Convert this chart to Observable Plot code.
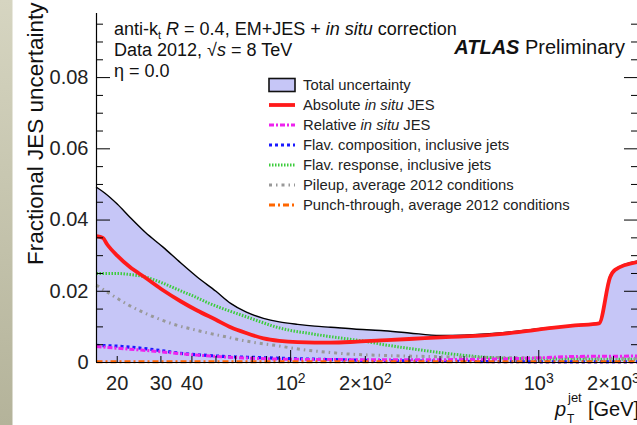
<!DOCTYPE html>
<html><head><meta charset="utf-8">
<script src="https://cdn.jsdelivr.net/npm/d3@7"></script>
<script src="https://cdn.jsdelivr.net/npm/@observablehq/plot@0.6"></script>
<style>
html,body{margin:0;padding:0;background:#fff;}
#chart{width:637px;height:425px;overflow:hidden;}
</style></head><body><div id="chart"></div>
<script>
const FONT = '"Liberation Sans", Arial, Helvetica, sans-serif';
const xDomain = [16.5, 2500];
const yDomain = [0, 0.098];

// Total uncertainty
const totalPt  = [16.5, 17.8, 20, 22.5, 26, 30.6, 36, 42, 50, 57.3, 66, 77.7, 90, 106.7, 125, 145, 180, 231, 300, 400, 500, 700, 1000, 1400, 1750, 1940, 2030, 2500];
const totalUnc = [0.0492, 0.0476, 0.0445, 0.0408, 0.0365, 0.0324, 0.0280, 0.0240, 0.0200, 0.0166, 0.0142, 0.0124, 0.0114, 0.0107, 0.0102, 0.0099, 0.0094, 0.0090, 0.0083, 0.0076, 0.0077, 0.0083, 0.0095, 0.0105, 0.0112, 0.0245, 0.0262, 0.0285];
// Absolute in situ JES
const absPt  = [16.5, 17.5, 18.2, 20, 22.5, 26, 30.6, 36, 42, 50, 57.3, 66, 77.7, 90, 106.7, 125, 145, 180, 231, 300, 444, 604, 829, 1130, 1400, 1750, 1940, 2030, 2500];
const absUnc = [0.0355, 0.0350, 0.0332, 0.0300, 0.0268, 0.0238, 0.0203, 0.0172, 0.0146, 0.0120, 0.0099, 0.0083, 0.0068, 0.0061, 0.0057, 0.0056, 0.0056, 0.0058, 0.0062, 0.0066, 0.0072, 0.0076, 0.0085, 0.0097, 0.0104, 0.0110, 0.0240, 0.0260, 0.0282];
// Relative in situ JES
const relPt  = [16.5, 20, 25, 30, 40, 60, 100, 200, 400, 700, 1000, 1400, 2500];
const relUnc = [0.0045, 0.0040, 0.0035, 0.0030, 0.0022, 0.0014, 0.0009, 0.0008, 0.0008, 0.0010, 0.0013, 0.0017, 0.0018];
// Flavour composition
const compPt  = [16.5, 21, 25, 29.6, 34, 39.4, 46, 53.6, 73, 100, 150, 200, 500, 1000, 2500];
const compUnc = [0.0048, 0.0045, 0.0040, 0.0034, 0.0028, 0.0023, 0.0020, 0.0017, 0.0014, 0.0011, 0.0008, 0.0006, 0.0003, 0.0002, 0.0002];
// Flavour response
const respPt  = [16.5, 20, 22.5, 26, 30, 35, 41, 47, 55, 64, 75, 87, 100, 118, 140, 162, 197, 238, 327, 444, 604, 829, 1130, 2500];
const respUnc = [0.0250, 0.0250, 0.0247, 0.0240, 0.0225, 0.0205, 0.0185, 0.0166, 0.0148, 0.0132, 0.0115, 0.0100, 0.0090, 0.0082, 0.0074, 0.0068, 0.0060, 0.0050, 0.0036, 0.0024, 0.0015, 0.0011, 0.0010, 0.0009];
// Pileup
const puPt  = [16.5, 19.7, 22, 26, 30, 35, 41, 47, 55, 64, 75, 87, 100, 118, 140, 162, 231, 350, 500, 1000, 2500];
const puUnc = [0.0217, 0.0183, 0.0163, 0.0138, 0.0120, 0.0104, 0.0092, 0.0082, 0.0072, 0.0062, 0.0054, 0.0048, 0.0041, 0.0034, 0.0029, 0.0025, 0.0020, 0.0017, 0.0015, 0.0013, 0.0012];
// Punch-through
const ptPt  = [16.5, 2500];
const ptUnc = [0.0002, 0.0002];

const yMajor = [0, 0.02, 0.04, 0.06, 0.08];
const yLabels = ["0", "0.02", "0.04", "0.06", "0.08"];
const yMinor = [0.005, 0.01, 0.015, 0.025, 0.03, 0.035, 0.045, 0.05, 0.055, 0.065, 0.07, 0.075, 0.085, 0.09, 0.095];
const xLabelTicks = [20, 30, 40, 100, 200, 1000, 2000];
const xLabels = ["20", "30", "40", "10^2", "2×10^2", "10^3", "2×10^3"];
const xMajor = [100, 1000];
const xMinor = [20, 30, 40, 50, 60, 70, 80, 90, 200, 300, 400, 500, 600, 700, 800, 900, 2000];

const series = [
  {name: "Total uncertainty", pt: totalPt, v: totalUnc},
  {name: "Absolute in situ JES", pt: absPt, v: absUnc, stroke: "#ff1a1a", width: 3.8, dash: null},
  {name: "Relative in situ JES", pt: relPt, v: relUnc, stroke: "#ee22ee", width: 3, dash: "5 2 2 2"},
  {name: "Flav. composition, inclusive jets", pt: compPt, v: compUnc, stroke: "#1a1aff", width: 3.2, dash: "3 3"},
  {name: "Flav. response, inclusive jets", pt: respPt, v: respUnc, stroke: "#3ccc3c", width: 3, dash: "1.5 1.5"},
  {name: "Pileup, average 2012 conditions", pt: puPt, v: puUnc, stroke: "#999999", width: 3, dash: "3 4 1.5 4"},
  {name: "Punch-through, average 2012 conditions", pt: ptPt, v: ptUnc, stroke: "#ff6600", width: 3, dash: "6 3 2 3"}
];
const rows = s => s.pt.map((p, i) => ({pt: p, v: s.v[i]}));
const total = rows(series[0]);
const lineOrder = [4, 5, 3, 2, 6, 1];

const blank = () => "";

const chart = Plot.plot({
  width: 637, height: 425,
  marginLeft: 96, marginRight: 0, marginTop: 13, marginBottom: 63,
  style: {fontFamily: FONT, fontSize: "20px", color: "black", background: "transparent", overflow: "visible"},
  x: {type: "log", domain: xDomain, axis: null},
  y: {domain: yDomain, axis: null},
  marks: [
    Plot.areaY(total, {x: "pt", y: "v", fill: "#c6c6f7", curve: "monotone-x"}),
    Plot.line(total, {x: "pt", y: "v", stroke: "#000", strokeWidth: 1.4, curve: "monotone-x"}),
    ...lineOrder.map(k => {
      const s = series[k];
      return Plot.line(rows(s), {x: "pt", y: "v", stroke: s.stroke, strokeWidth: s.width,
        strokeDasharray: s.dash || undefined, strokeLinecap: "butt", curve: "monotone-x"});
    }),
    Plot.ruleX([xDomain[0]], {stroke: "#000", strokeWidth: 1.2}),
    Plot.ruleY([0], {stroke: "#000", strokeWidth: 1.2}),
    Plot.text(yMajor, {y: d => d, text: (d, i) => yLabels[i], frameAnchor: "left", dx: -8, textAnchor: "end", fill: "#222", fontSize: 20}),
    Plot.axisY(yMajor, {anchor: "left", tickSize: -14, tickFormat: blank, label: null}),
    Plot.axisY(yMinor, {anchor: "left", tickSize: -7, tickFormat: blank, label: null}),
    Plot.axisY(yMajor, {anchor: "right", tickSize: -14, tickFormat: blank, label: null}),
    Plot.axisY(yMinor, {anchor: "right", tickSize: -7, tickFormat: blank, label: null}),
    Plot.text(xLabelTicks, {x: d => d, text: (d, i) => xLabels[i], frameAnchor: "bottom", lineAnchor: "top", dy: 13, fill: "#222", fontSize: 20}),
    Plot.axisX(xMajor, {anchor: "bottom", tickSize: -12, tickFormat: blank, label: null}),
    Plot.axisX(xMinor, {anchor: "bottom", tickSize: -6, tickFormat: blank, label: null})
  ]
});
document.getElementById("chart").appendChild(chart);

const svg = d3.select(chart);
// superscripts on x tick labels
svg.selectAll("text").each(function() {
  const t = d3.select(this);
  if (this.childElementCount === 0 && this.textContent.includes("^")) {
    const [base, exp] = this.textContent.split("^");
    t.text(null);
    t.append("tspan").text(base);
    t.append("tspan").attr("dy", "-0.45em").attr("font-size", "14px").text(exp);
  }
});

// left beige strip
const defs = svg.insert("defs", ":first-child");
const g = defs.append("linearGradient").attr("id", "strip").attr("x1", 0).attr("y1", 0).attr("x2", 0).attr("y2", 1);
g.append("stop").attr("offset", 0).attr("stop-color", "#d6d5c1");
g.append("stop").attr("offset", 1).attr("stop-color", "#b4b39a");
svg.insert("rect", "defs + *").attr("x", 0).attr("y", 0).attr("width", 12.5).attr("height", 425).attr("fill", "url(#strip)");

const ann = svg.append("g").attr("font-family", FONT).attr("fill", "#111").attr("text-anchor", "start");
// y axis title
ann.append("text").attr("transform", "translate(43,265) rotate(-90)").attr("font-size", 22.5).text("Fractional JES uncertainty");

// x axis title
ann.append("text").attr("x", 555).attr("y", 416).attr("font-size", 20).attr("font-style", "italic").text("p");
ann.append("text").attr("x", 568).attr("y", 402).attr("font-size", 13).text("jet");
ann.append("text").attr("x", 567).attr("y", 423).attr("font-size", 12).text("T");
ann.append("text").attr("x", 588).attr("y", 416).attr("font-size", 20).text("[GeV]");

// annotations
const l1 = ann.append("text").attr("x", 114).attr("y", 35).attr("font-size", 18);
l1.append("tspan").text("anti-k");
l1.append("tspan").attr("font-size", 11).attr("dy", 4).text("t");
l1.append("tspan").attr("dy", -4).text(" ");
l1.append("tspan").attr("font-style", "italic").text("R");
l1.append("tspan").text(" = 0.4, EM+JES + ");
l1.append("tspan").attr("font-style", "italic").text("in situ");
l1.append("tspan").text(" correction");
const l2 = ann.append("text").attr("x", 114).attr("y", 56).attr("font-size", 18);
l2.append("tspan").text("Data 2012, √");
l2.append("tspan").attr("font-style", "italic").text("s");
l2.append("tspan").text(" = 8 TeV");
ann.append("text").attr("x", 114).attr("y", 77).attr("font-size", 18).text("η = 0.0");
const at = ann.append("text").attr("x", 625).attr("y", 54).attr("text-anchor", "end").attr("font-size", 20);
at.append("tspan").attr("font-weight", "bold").attr("font-style", "italic").text("ATLAS");
at.append("tspan").text(" Preliminary");

// legend
const leg = svg.append("g").attr("font-family", FONT).attr("font-size", 14.8).attr("fill", "#222").attr("text-anchor", "start");
series.forEach((s, i) => {
  const cy = 85 + i * 20;
  if (i === 0) {
    leg.append("rect").attr("x", 269).attr("y", cy - 6.5).attr("width", 26).attr("height", 13)
      .attr("fill", "#c6c6f7").attr("stroke", "#111").attr("stroke-width", 1.6);
  } else {
    leg.append("line").attr("x1", 269).attr("x2", 295).attr("y1", cy).attr("y2", cy)
      .attr("stroke", s.stroke).attr("stroke-width", s.width).attr("stroke-dasharray", s.dash);
  }
  const t = leg.append("text").attr("x", 303).attr("y", cy + 5.3);
  if (s.name.includes("in situ")) {
    const [a, b] = s.name.split("in situ");
    t.append("tspan").text(a);
    t.append("tspan").attr("font-style", "italic").text("in situ");
    t.append("tspan").text(b);
  } else t.text(s.name);
});
</script></body></html>
